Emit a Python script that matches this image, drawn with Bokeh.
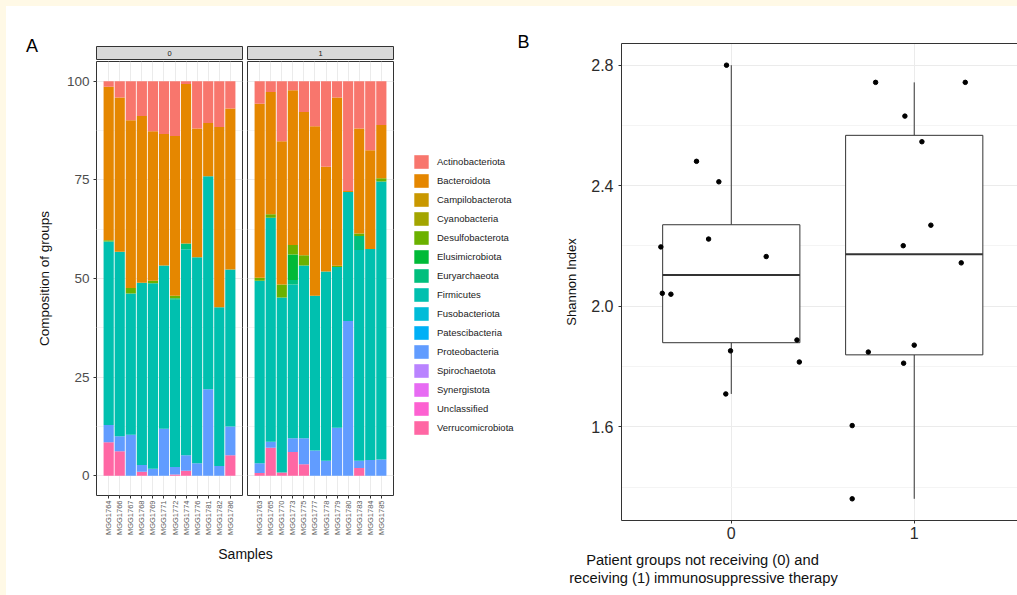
import math
import numpy as np
from bokeh.plotting import figure
from bokeh.layouts import row, column
from bokeh.models import (ColumnDataSource, FactorRange, Range1d, FixedTicker, Label,
                          Legend, LegendItem, LinearAxis, NumeralTickFormatter, Spacer)
from bokeh.embed import file_html
from bokeh.resources import INLINE
from bokeh.core.properties import value

FONT = "Liberation Sans"
CREAM = "#FFF9E6"

# ---------------- Panel A data ----------------
facets = ["0", "1"]
samples_0 = ["MGG1764", "MGG1766", "MGG1767", "MGG1768", "MGG1769", "MGG1771",
             "MGG1772", "MGG1774", "MGG1776", "MGG1781", "MGG1782", "MGG1786"]
samples_1 = ["MGG1763", "MGG1765", "MGG1770", "MGG1773", "MGG1775", "MGG1777",
             "MGG1778", "MGG1779", "MGG1780", "MGG1783", "MGG1784", "MGG1785"]

phyla = ["Actinobacteriota", "Bacteroidota", "Campilobacterota", "Cyanobacteria",
         "Desulfobacterota", "Elusimicrobiota", "Euryarchaeota", "Firmicutes",
         "Fusobacteriota", "Patescibacteria", "Proteobacteria", "Spirochaetota",
         "Synergistota", "Unclassified", "Verrucomicrobiota"]
phyla_colors = ["#F8766D", "#E58700", "#C99800", "#A3A500", "#6BB100", "#00BA38",
                "#00BF7D", "#00C0AF", "#00BCD8", "#00B0F6", "#619CFF", "#B983FF",
                "#E76BF3", "#FD61D1", "#FF67A4"]

# values (percent): first 12 = facet 0 samples, last 12 = facet 1 samples
actinobacteriota = [1.4, 4.1, 9.9, 8.8, 12.7, 13.4, 13.9, 0.7, 12.0, 10.6, 11.6, 6.9,
                    5.7, 2.7, 15.2, 2.3, 7.8, 11.4, 21.7, 4.1, 27.8, 12.0, 17.5, 11.1]
bacteroidota = [38.9, 39.1, 42.5, 42.3, 37.9, 33.3, 40.5, 40.4, 32.6, 13.5, 45.7, 40.8,
                44.1, 31.0, 36.3, 39.2, 36.3, 43.0, 26.5, 42.7, 0.3, 26.6, 25.0, 13.5]
campilobacterota = [0.0] * 24
cyanobacteria = [0.0] * 24
desulfobacterota = [0.3, 0.0, 1.4, 0.0, 0.6, 0.0, 0.6, 0.0, 0.0, 0.0, 0.0, 0.0,
                    0.8, 0.9, 3.3, 2.4, 2.6, 0.0, 0.0, 0.3, 0.0, 0.6, 0.0, 0.8]
elusimicrobiota = [0.0, 0.0, 0.0, 0.0, 0.0, 0.0, 0.0, 0.0, 0.0, 0.0, 0.0, 0.0,
                   0.0, 0.0, 0.0, 6.5, 0.0, 0.0, 0.0, 0.0, 0.0, 0.0, 0.0, 0.0]
euryarchaeota = [0.0, 0.0, 0.0, 0.0, 0.0, 0.0, 0.4, 1.5, 0.0, 0.0, 0.0, 0.0,
                 0.0, 0.0, 0.0, 1.1, 0.0, 0.0, 0.0, 0.0, 0.0, 3.6, 0.0, 0.0]
firmicutes = [46.5, 46.8, 35.8, 46.2, 47.0, 41.4, 42.4, 52.2, 52.2, 54.0, 40.2, 39.8,
              46.2, 56.8, 44.4, 39.0, 43.8, 39.2, 48.0, 40.7, 32.7, 53.4, 53.5, 70.5]
fusobacteriota = [0.0] * 24
patescibacteria = [0.0] * 24
proteobacteria = [4.4, 3.8, 10.4, 1.7, 1.8, 11.9, 1.9, 3.9, 3.2, 21.9, 2.5, 7.3,
                  2.5, 1.5, 0.0, 3.5, 6.6, 6.4, 3.8, 12.2, 39.2, 1.8, 4.0, 4.1]
spirochaetota = [0.0] * 24
synergistota = [0.0] * 24
unclassified = [0.0] * 24
verrucomicrobiota = [8.5, 6.2, 0.0, 1.0, 0.0, 0.0, 0.3, 1.3, 0.0, 0.0, 0.0, 5.2,
                     0.7, 7.1, 0.8, 6.0, 2.9, 0.0, 0.0, 0.0, 0.0, 2.0, 0.0, 0.0]

phyla_values = [actinobacteriota, bacteroidota, campilobacterota, cyanobacteria,
                desulfobacterota, elusimicrobiota, euryarchaeota, firmicutes,
                fusobacteriota, patescibacteria, proteobacteria, spirochaetota,
                synergistota, unclassified, verrucomicrobiota]

# ---------------- Panel B data ----------------
group_labels = [0, 1]
shannon_0 = [2.800, 2.481, 2.413, 2.223, 2.197, 2.165, 2.043, 2.040, 1.888, 1.852, 1.815, 1.709]
jitter_0 = [-0.026, -0.19, -0.068, -0.124, -0.385, 0.191, -0.377, -0.33, 0.359, -0.004, 0.372, -0.03]
shannon_1 = [2.743, 2.743, 2.631, 2.546, 2.269, 2.201, 2.144, 1.871, 1.848, 1.811, 1.604, 1.361]
jitter_1 = [-0.211, 0.279, -0.051, 0.042, 0.091, -0.06, 0.257, 0.0, -0.251, -0.058, -0.339, -0.339]

AX_DARK = "#333333"
TICK_TXT = "#4D4D4D"
GRID = "#EBEBEB"
GRID_MINOR = "#F4F4F4"

# stacking order: ggplot puts the first level on top -> bottom is the last level
stack_names = phyla[::-1]
stack_colors = phyla_colors[::-1]

FACET_W = 146  # panel width in px


def bare_fig(w, h, xr, yr, **kw):
    p = figure(width=w, height=h, output_backend="svg", toolbar_location=None,
               x_range=xr, y_range=yr, x_axis_location=None, y_axis_location=None,
               min_border_left=kw.get("l", 0), min_border_right=kw.get("r", 0),
               min_border_top=kw.get("t", 0), min_border_bottom=kw.get("b", 0))
    p.grid.visible = False
    p.outline_line_color = None
    p.background_fill_color = "white"
    p.border_fill_color = "white"
    return p


def make_facet(idx, first):
    samples = samples_0 if idx == 0 else samples_1
    sl = slice(0, 12) if idx == 0 else slice(12, 24)
    data = {"sample": samples}
    for name, vals in zip(phyla, phyla_values):
        data[name] = vals[sl]
    src = ColumnDataSource(data)

    kw = dict(output_backend="svg", toolbar_location=None,
              x_range=FactorRange(factors=samples, range_padding=0.1),
              y_range=Range1d(-5, 105), height=480,
              min_border_top=1, min_border_bottom=45)
    if first:
        p = figure(width=238, min_border_left=90, min_border_right=2, **kw)
    else:
        p = figure(width=152, min_border_left=3, min_border_right=3,
                   y_axis_location=None, **kw)
    p.background_fill_color = "white"
    p.border_fill_color = "white"
    p.outline_line_color = AX_DARK
    p.outline_line_width = 1

    p.vbar_stack(stack_names, x="sample", width=0.92, source=src,
                 fill_color=stack_colors, line_color=None)

    yt = FixedTicker(ticks=[0, 25, 50, 75, 100], minor_ticks=[12.5, 37.5, 62.5, 87.5])
    p.ygrid.ticker = yt
    p.ygrid.grid_line_color = GRID
    p.ygrid.minor_grid_line_color = GRID_MINOR
    p.xgrid.grid_line_color = GRID

    xa = p.xaxis[0]
    xa.major_label_orientation = math.pi / 2
    xa.major_label_text_font_size = "7.5px"
    xa.major_label_text_font = FONT
    xa.major_label_text_color = "#5A5A5A"
    xa.axis_line_color = None
    xa.major_tick_line_color = AX_DARK
    xa.major_tick_out = 3
    xa.major_tick_in = 0
    xa.major_label_standoff = 2

    if first:
        ya = p.yaxis[0]
        ya.ticker = yt
        ya.axis_line_color = None
        ya.major_tick_line_color = AX_DARK
        ya.minor_tick_line_color = None
        ya.major_tick_out = 3
        ya.major_tick_in = 0
        ya.major_label_text_font_size = "13.5px"
        ya.major_label_text_font = FONT
        ya.major_label_text_color = TICK_TXT
        ya.major_label_standoff = 3
        ya.axis_label = "Composition of groups"
        ya.axis_label_text_font = FONT
        ya.axis_label_text_font_size = "13.5px"
        ya.axis_label_text_font_style = "normal"
        ya.axis_label_text_color = "#111111"
        ya.axis_label_standoff = 12
    return p


def make_strip(idx, w, left_off):
    # strip box spans data [0,1] x [0,1]; ranges place it over the facet panel
    right_off = w - left_off - FACET_W
    xr = Range1d(-left_off / FACET_W, 1 + right_off / FACET_W)
    yr = Range1d(-1 / 13, 1 + 40 / 13)
    p = bare_fig(w, 54, xr, yr)
    p.quad(left=[0], right=[1], bottom=[0], top=[1], fill_color="#D9D9D9",
           line_color=AX_DARK, line_width=1)
    p.text(x=[0.5], y=[0.5], text=[facets[idx]], text_align="center",
           text_baseline="middle", text_font_size="7.5px", text_font=value(FONT),
           text_color="#1A1A1A")
    return p


stripA0 = make_strip(0, 238, 90)
stripA0.add_layout(Label(x=25.5, y=14.5, x_units="screen", y_units="screen", text="A",
                         text_font=FONT, text_font_size="18px", text_align="center",
                         text_baseline="middle", text_color="black"))
stripA1 = make_strip(1, 152, 3)
figA0 = make_facet(0, True)
figA1 = make_facet(1, False)

samples_fig = bare_fig(390, 55, Range1d(0, 1), Range1d(0, 1))
samples_fig.add_layout(Label(x=239, y=42, x_units="screen", y_units="screen", text="Samples",
                             text_font=FONT, text_font_size="14px", text_align="center",
                             text_baseline="middle", text_color="#111111"))

left_block = column(row(stripA0, stripA1), row(figA0, figA1), samples_fig)

# ---------------- Legend column ----------------
b_fig = bare_fig(164, 147, Range1d(0, 1), Range1d(0, 1))
b_fig.add_layout(Label(x=127, y=112, x_units="screen", y_units="screen", text="B",
                       text_font=FONT, text_font_size="18px", text_align="center",
                       text_baseline="middle", text_color="black"))

legend_fig = bare_fig(164, 442, Range1d(0, 1), Range1d(0, 1), l=16)
items = []
for name, col in zip(phyla, phyla_colors):
    r = legend_fig.vbar(x=[0], top=[0], width=0, fill_color=col, line_color=None)
    items.append(LegendItem(label=name, renderers=[r]))
leg = Legend(items=items, location="top_left", margin=0, padding=0, spacing=2,
             glyph_width=18, glyph_height=17, label_height=17, label_standoff=7,
             label_text_font=FONT, label_text_font_size="9.5px", label_text_color="#1A1A1A",
             border_line_color=None, background_fill_alpha=0)
legend_fig.add_layout(leg)

legend_col = column(row(b_fig), row(legend_fig))

# ---------------- Panel B ----------------
figB = figure(width=457, height=542, output_backend="svg", toolbar_location=None,
              x_range=Range1d(-0.6, 1.5645), y_range=Range1d(1.289, 2.872),
              min_border_left=61, min_border_right=0, min_border_top=37, min_border_bottom=28)
figB.outline_line_color = None
figB.background_fill_color = "white"
figB.border_fill_color = "white"

yt_b = FixedTicker(ticks=[1.6, 2.0, 2.4, 2.8], minor_ticks=[1.4, 1.8, 2.2, 2.6])
xt_b = FixedTicker(ticks=group_labels)
figB.xgrid.ticker = xt_b
figB.ygrid.ticker = yt_b
figB.xgrid.grid_line_color = GRID
figB.ygrid.grid_line_color = GRID
figB.ygrid.minor_grid_line_color = GRID_MINOR

for ax in (figB.xaxis[0], figB.yaxis[0]):
    ax.axis_line_color = AX_DARK
    ax.major_tick_line_color = AX_DARK
    ax.minor_tick_line_color = None
    ax.major_tick_out = 3
    ax.major_tick_in = 0
    ax.major_label_text_font = FONT
    ax.major_label_text_font_size = "16px"
    ax.major_label_text_color = "#2B2B2B"
figB.xaxis[0].ticker = xt_b
figB.xaxis[0].major_label_standoff = 3
figB.yaxis[0].ticker = yt_b
figB.yaxis[0].formatter = NumeralTickFormatter(format="0.0")
figB.yaxis[0].major_label_standoff = 4
figB.yaxis[0].axis_label = "Shannon Index"
figB.yaxis[0].axis_label_text_font = FONT
figB.yaxis[0].axis_label_text_font_size = "13px"
figB.yaxis[0].axis_label_text_font_style = "normal"
figB.yaxis[0].axis_label_text_color = "#111111"
figB.yaxis[0].axis_label_standoff = 9

top_axis = LinearAxis(ticker=FixedTicker(ticks=[]), axis_line_color=AX_DARK,
                      major_tick_line_color=None, minor_tick_line_color=None,
                      major_label_text_font_size="0px")
figB.add_layout(top_axis, "above")

# box statistics (ggplot / numpy type-7 quantiles)
box_w = 0.75
groups_vals = [shannon_0, shannon_1]
q1s, meds, q3s, los, his = [], [], [], [], []
for vals in groups_vals:
    a = np.array(vals)
    q1, med, q3 = np.percentile(a, [25, 50, 75])
    iqr = q3 - q1
    lo = a[a >= q1 - 1.5 * iqr].min()
    hi = a[a <= q3 + 1.5 * iqr].max()
    q1s.append(q1); meds.append(med); q3s.append(q3); los.append(lo); his.append(hi)

gx = np.array(group_labels, dtype=float)
figB.segment(x0=gx, y0=q3s, x1=gx, y1=his, line_color=AX_DARK, line_width=1)
figB.segment(x0=gx, y0=los, x1=gx, y1=q1s, line_color=AX_DARK, line_width=1)
figB.vbar(x=gx, width=box_w, bottom=q1s, top=q3s, fill_color="white",
          line_color=AX_DARK, line_width=1)
figB.segment(x0=gx - box_w / 2, y0=meds, x1=gx + box_w / 2, y1=meds,
             line_color=AX_DARK, line_width=2)

pts_x = list(group_labels[0] + np.array(jitter_0)) + list(group_labels[1] + np.array(jitter_1))
pts_y = shannon_0 + shannon_1
figB.scatter(x=pts_x, y=pts_y, size=4.5, fill_color="black", line_color="black")

title_fig = bare_fig(457, 47, Range1d(0, 1), Range1d(0, 1))
title_fig.add_layout(Label(x=142, y=36, x_units="screen", y_units="screen",
                           text="Patient groups not receiving (0) and",
                           text_font=FONT, text_font_size="14.7px", text_align="center",
                           text_baseline="middle", text_color="#111111"))
title_fig.add_layout(Label(x=143, y=18, x_units="screen", y_units="screen",
                           text="receiving (1) immunosuppressive therapy",
                           text_font=FONT, text_font_size="14.7px", text_align="center",
                           text_baseline="middle", text_color="#111111"))

b_col = column(row(figB), row(title_fig))

# ---------------- Layout ----------------
top_pad = Spacer(width=1017, height=6, styles={"background-color": CREAM})
left_pad = Spacer(width=6, height=589, styles={"background-color": CREAM})
layout = column(top_pad, row(left_pad, left_block, legend_col, b_col))

open("out.html", "w").write(file_html(layout, INLINE))
